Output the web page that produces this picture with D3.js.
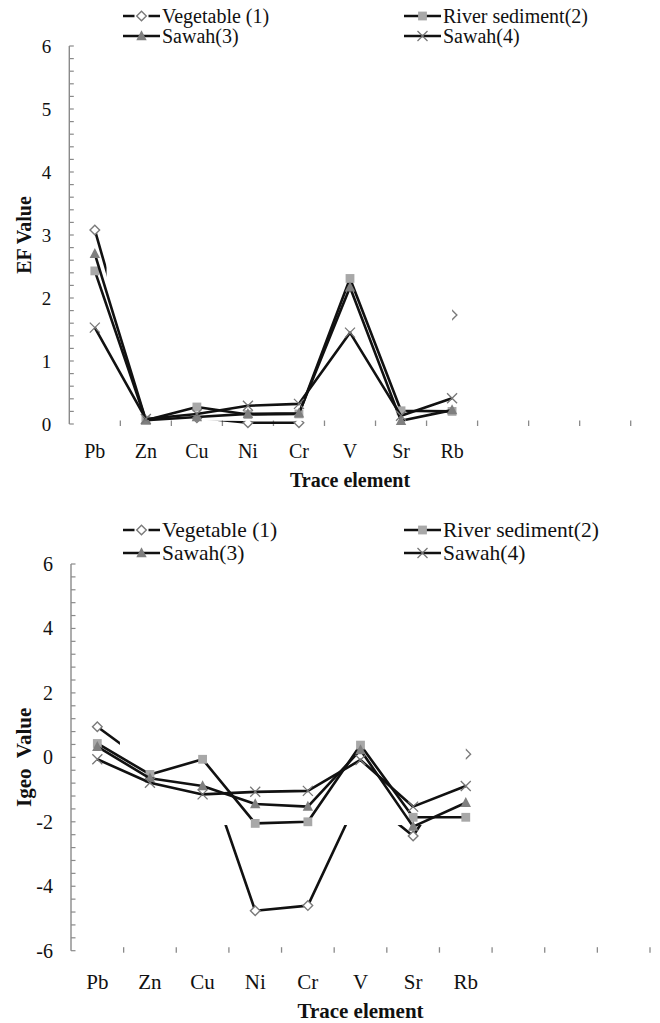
<!DOCTYPE html>
<html><head><meta charset="utf-8">
<script src="https://cdn.jsdelivr.net/npm/d3@7"></script>
<style>
body{margin:0;background:#fff}
svg{display:block}
</style>
</head><body>
<svg id="c" width="660" height="1023" font-family="'Liberation Serif', 'DejaVu Serif', serif"></svg>
<script>
// ---------- data ----------
const elements = ["Pb","Zn","Cu","Ni","Cr","V","Sr","Rb"];
const slotCount = 11; // axis has 11 category slots, only 8 labelled
const seriesNames = ["Vegetable (1)","River sediment(2)","Sawah(3)","Sawah(4)"];

const efVegetable = [3.08, 0.25, 0.10, 0.02, 0.02, 2.00, 0.10, 1.73];
const efRiver     = [2.43, 0.06, 0.27, 0.15, 0.16, 2.31, 0.21, 0.20];
const efSawah3    = [2.70, 0.06, 0.11, 0.16, 0.17, 2.17, 0.05, 0.22];
const efSawah4    = [1.53, 0.08, 0.16, 0.29, 0.32, 1.45, 0.13, 0.41];

const igeoVegetable = [0.95, -0.25, -0.02, -4.76, -4.60, -1.12, -2.44, 0.10];
const igeoRiver     = [0.43, -0.53, -0.06, -2.05, -2.00, 0.38, -1.86, -1.86];
const igeoSawah3    = [0.33, -0.65, -0.89, -1.45, -1.53, 0.23, -2.15, -1.41];
const igeoSawah4    = [-0.06, -0.79, -1.15, -1.07, -1.04, -0.08, -1.53, -0.89];

const efTicks = [0,1,2,3,4,5,6];
const igeoTicks = [-6,-4,-2,0,2,4,6];

// ---------- styles ----------
const FONT = "'Liberation Serif', 'DejaVu Serif', serif";
const GRAY = "#8a8a8a";
const markerStyles = [
  {type:"diamond", fill:"#fff", stroke:"#7a7a7a"},
  {type:"square", fill:"#a8a8a8", stroke:"none"},
  {type:"triangle", fill:"#7f7f7f", stroke:"none"},
  {type:"x", fill:"none", stroke:"#777"}
];

const svg = d3.select("#c");
let maskId = 0;

function txt(sel) {
  return sel.append("text").attr("font-family", FONT).attr("fill", "#111");
}

function drawMarker(sel, type, st) {
  if (type === "diamond") {
    sel.append("path").attr("d","M0,-4.8L4.8,0L0,4.8L-4.8,0Z")
      .attr("fill",st.fill).attr("stroke",st.stroke).attr("stroke-width",1.4);
  } else if (type === "square") {
    sel.append("rect").attr("x",-4.4).attr("y",-4.4).attr("width",8.8).attr("height",8.8)
      .attr("fill",st.fill);
  } else if (type === "triangle") {
    sel.append("path").attr("d","M0,-5.8L5.2,4.2L-5.2,4.2Z").attr("fill",st.fill);
  } else {
    sel.append("path").attr("d","M-5,-5L5,5M5,-5L-5,5")
      .attr("stroke",st.stroke).attr("stroke-width",1.3).attr("fill","none");
  }
}

function drawChart(cfg) {
  const g = svg.append("g");
  const x = d3.scaleLinear().domain([0, slotCount]).range([cfg.left, cfg.right]);
  const cx = i => x(i + 0.5);
  const y = d3.scaleLinear().domain(cfg.domain).range([cfg.bottom, cfg.top]);

  // y axis
  g.append("line").attr("x1",cfg.left).attr("x2",cfg.left)
    .attr("y1",y(cfg.domain[0])).attr("y2",y(cfg.domain[1]))
    .attr("stroke",GRAY).attr("stroke-width",1.4);
  const minor = d3.range(0, Math.round((cfg.domain[1]-cfg.domain[0])/cfg.minor)+1)
    .map(k => cfg.domain[0] + k*cfg.minor);
  g.selectAll(".ytick").data(minor).enter().append("line")
    .attr("x1",cfg.left).attr("x2",cfg.left+4.5)
    .attr("y1",d=>y(d)).attr("y2",d=>y(d))
    .attr("stroke",GRAY).attr("stroke-width",1.2);
  cfg.ticks.forEach(d => {
    txt(g).attr("x",cfg.left-18).attr("y",y(d)).attr("text-anchor","end")
      .attr("dominant-baseline","central").attr("font-size",cfg.tickFont)
      .text(d<0 ? "-"+Math.abs(d) : d);
  });

  // x ticks (category boundaries), no axis line
  g.selectAll(".xtick").data(d3.range(1, slotCount+1)).enter().append("line")
    .attr("x1",d=>x(d)).attr("x2",d=>x(d))
    .attr("y1",cfg.bottom-3.5).attr("y2",cfg.bottom+2)
    .attr("stroke",GRAY).attr("stroke-width",1.3);
  elements.forEach((d,i) => {
    txt(g).attr("x",cx(i)).attr("y",cfg.xLabelY).attr("text-anchor","middle")
      .attr("font-size",cfg.catFont).text(d);
  });

  // axis titles
  txt(g).attr("transform",`translate(${cfg.yTitleX},${(cfg.top+cfg.bottom)/2}) rotate(-90)`)
    .attr("text-anchor","middle").attr("font-weight","bold").attr("font-size",cfg.titleFont)
    .attr("xml:space","preserve").style("white-space","pre").text(cfg.yTitle);
  txt(g).attr("x",(cfg.left+cfg.right)/2).attr("y",cfg.xTitleY)
    .attr("text-anchor","middle").attr("font-weight","bold").attr("font-size",cfg.titleFont)
    .text("Trace element");

  // mask: back-layer series hidden by the overlapping plot area
  const id = "m" + (maskId++);
  const mask = svg.append("defs").append("mask").attr("id",id)
    .attr("maskUnits","userSpaceOnUse").attr("x",0).attr("y",0).attr("width",660).attr("height",1023);
  mask.append("rect").attr("x",0).attr("y",0).attr("width",660).attr("height",1023).attr("fill","#fff");
  const ov = cfg.overlay;
  mask.append("rect").attr("x",x(ov.x0)).attr("y",y(ov.yTop))
    .attr("width",x(ov.x1)-x(ov.x0)).attr("height",y(ov.yBottom)-y(ov.yTop)).attr("fill","#000");

  const line = d3.line().x((d,i)=>cx(i)).y(d=>y(d));
  cfg.series.forEach((vals, s) => {
    const sg = g.append("g");
    if (s === 0) sg.attr("mask",`url(#${id})`);
    sg.append("path").attr("d",line(vals)).attr("fill","none")
      .attr("stroke","#111").attr("stroke-width",2.6).attr("stroke-linejoin","round");
    vals.forEach((v,i) => {
      const m = sg.append("g").attr("transform",`translate(${cx(i)},${y(v)})`);
      drawMarker(m, markerStyles[s].type, markerStyles[s]);
    });
  });

  // legend
  const L = cfg.legend;
  seriesNames.forEach((name, s) => {
    const col = s % 2, row = Math.floor(s/2);
    const lx = L.cols[col], ly = L.rows[row];
    const lg = g.append("g");
    lg.append("line").attr("x1",lx).attr("x2",lx+L.symW).attr("y1",ly).attr("y2",ly)
      .attr("stroke","#111").attr("stroke-width",2.6);
    const m = lg.append("g").attr("transform",`translate(${lx+L.symW/2},${ly})`);
    if (s===0) m.append("rect").attr("x",-7).attr("y",-6).attr("width",14).attr("height",12).attr("fill","#fff");
    drawMarker(m, markerStyles[s].type, markerStyles[s]);
    txt(lg).attr("x",lx+L.symW+2).attr("y",ly).attr("dominant-baseline","central")
      .attr("font-size",L.font).text(name);
  });
}

drawChart({
  left:69.3, right:630.7, top:46, bottom:424,
  domain:[0,6], minor:0.2, ticks:efTicks,
  tickFont:19, catFont:20, titleFont:20,
  xLabelY:458, yTitleX:31, yTitle:"EF Value", xTitleY:487,
  overlay:{x0:0.73, x1:7.5, yTop:6, yBottom:0.05},
  series:[efVegetable, efRiver, efSawah3, efSawah4],
  legend:{rows:[16,36], cols:[123,404], symW:37, font:20}
});

drawChart({
  left:71, right:650, top:564, bottom:950.7,
  domain:[-6,6], minor:0.4, ticks:igeoTicks,
  tickFont:20, catFont:21, titleFont:21,
  xLabelY:989, yTitleX:31, yTitle:"Igeo  Value", xTitleY:1018,
  overlay:{x0:0.93, x1:7.5, yTop:6, yBottom:-2.1},
  series:[igeoVegetable, igeoRiver, igeoSawah3, igeoSawah4],
  legend:{rows:[530,553], cols:[123,404], symW:37, font:21.5}
});
</script>
</body></html>
